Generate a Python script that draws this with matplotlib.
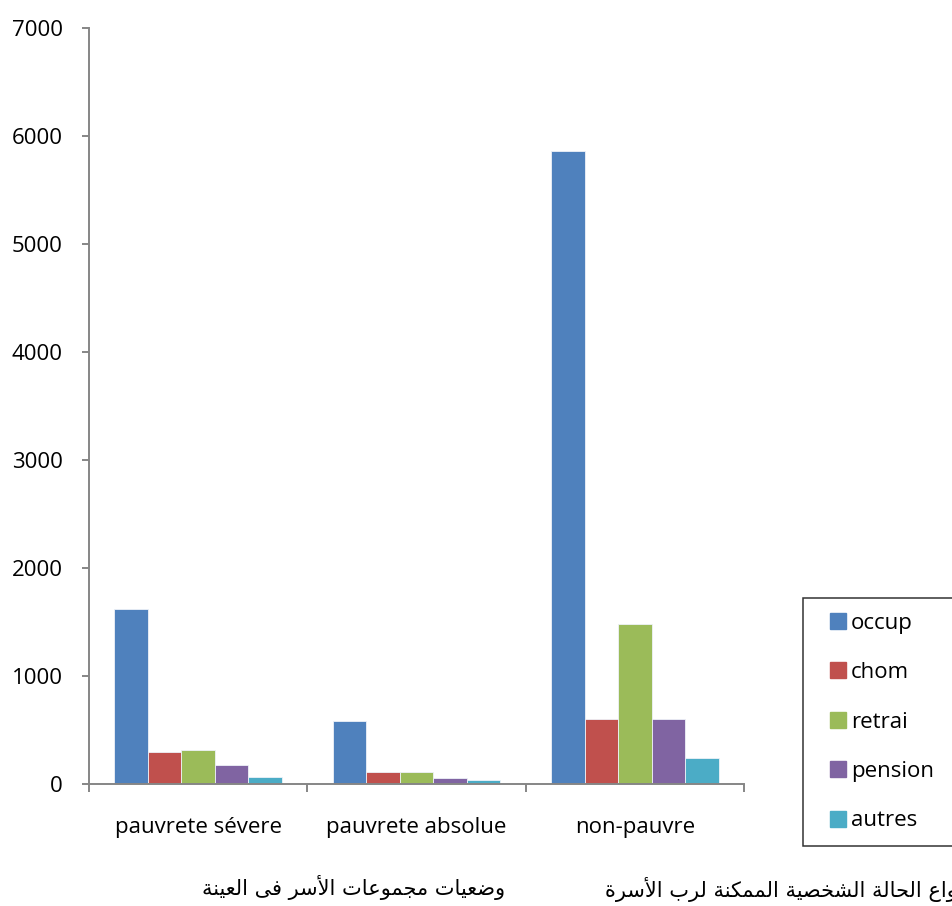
import matplotlib
matplotlib.use("Agg")
import matplotlib.pyplot as plt
from matplotlib.lines import Line2D
import numpy as np

# ---- data -------------------------------------------------------------
categories = ["pauvrete sévere", "pauvrete absolue", "non-pauvre"]
series_names = ["occup", "chom", "retrai", "pension", "autres"]
occup = [1620, 583, 5860]
chom = [293, 111, 599]
retrai = [315, 111, 1480]
pension = [173, 58, 605]
autres = [62, 37, 238]
series_values = [occup, chom, retrai, pension, autres]
colors = ["#4F81BD", "#C0504D", "#9BBB59", "#8064A2", "#4BACC6"]
yticks = [0, 1000, 2000, 3000, 4000, 5000, 6000, 7000]

title_groups = "وضعيات مجموعات الأسر فى العينة"
title_status = "أنواع الحالة الشخصية الممكنة لرب الأسرة"

# ---- minimal Arabic shaping (contextual forms + RTL order) -------------
_FORMS = {
    "ا": (0xFE8D, "R"), "أ": (0xFE83, "R"), "إ": (0xFE87, "R"), "آ": (0xFE81, "R"),
    "ب": (0xFE8F, "D"), "ة": (0xFE93, "R"), "ت": (0xFE95, "D"), "ج": (0xFE9D, "D"),
    "ح": (0xFEA1, "D"), "خ": (0xFEA5, "D"), "ر": (0xFEAD, "R"), "س": (0xFEB1, "D"),
    "ش": (0xFEB5, "D"), "ص": (0xFEB9, "D"), "ض": (0xFEBD, "D"), "ع": (0xFEC9, "D"),
    "ف": (0xFED1, "D"), "ك": (0xFED9, "D"), "ل": (0xFEDD, "D"), "م": (0xFEE1, "D"),
    "ن": (0xFEE5, "D"), "و": (0xFEED, "R"), "ى": (0xFEEF, "R"), "ي": (0xFEF1, "D"),
    "ه": (0xFEE9, "D"),
}
_LAM_ALEF = {"ا": 0xFEFB, "أ": 0xFEF7, "إ": 0xFEF9, "آ": 0xFEF5}


def shape_arabic(text):
    out = []
    i, n = 0, len(text)
    while i < n:
        c = text[i]
        if c not in _FORMS:
            out.append(c)
            i += 1
            continue
        jp = i > 0 and text[i - 1] in _FORMS and _FORMS[text[i - 1]][1] == "D"
        if c == "ل" and i + 1 < n and text[i + 1] in _LAM_ALEF:
            out.append(chr(_LAM_ALEF[text[i + 1]] + (1 if jp else 0)))
            i += 2
            continue
        base, kind = _FORMS[c]
        jn = kind == "D" and i + 1 < n and text[i + 1] in _FORMS
        if jp and jn:
            form = 3
        elif jp:
            form = 1
        elif jn:
            form = 2
        else:
            form = 0
        out.append(chr(base + form))
        i += 1
    return "".join(reversed(out))


# ---- figure -------------------------------------------------------------
W, H = 953, 906
plt.rcParams["font.family"] = ["Open Sans", "DejaVu Sans"]
fig = plt.figure(figsize=(W / 100, H / 100), dpi=100)
fig.patch.set_facecolor("white")

ax_left, ax_right, ax_top, ax_bottom = 89, 744, 28, 784
ax = fig.add_axes([ax_left / W, 1 - ax_bottom / H,
                   (ax_right - ax_left) / W, (ax_bottom - ax_top) / H])

x = np.arange(len(categories))
bar_w = 0.1535
n_series = len(series_names)
handles = []
for k, (name, vals, col) in enumerate(zip(series_names, series_values, colors)):
    offs = (k - (n_series - 1) / 2) * bar_w
    ax.bar(x + offs, vals, width=bar_w, color=col, edgecolor="#eef2f8",
           linewidth=0.6, zorder=2)
    handles.append(Line2D([], [], linestyle="none", marker="s", markersize=11,
                          markerfacecolor=col, markeredgecolor=col, label=name))

ax.set_xlim(-0.5, len(categories) - 0.5)
ax.set_ylim(0, 7000)
ax.set_yticks(yticks)
ax.set_yticklabels([str(v) for v in yticks])

axis_gray = "#868686"
for side in ["top", "right"]:
    ax.spines[side].set_visible(False)
for side in ["left", "bottom"]:
    ax.spines[side].set_color(axis_gray)
    ax.spines[side].set_linewidth(1.4)

ax.tick_params(axis="y", direction="out", length=5, width=1.4, color=axis_gray,
               pad=14, labelsize=16, labelcolor="black")
ax.set_xticks(x)
ax.set_xticklabels(categories)
ax.tick_params(axis="x", which="major", length=0, pad=24, labelsize=16,
               labelcolor="black")
ax.set_xticks(np.arange(-0.5, len(categories), 1.0), minor=True)
ax.tick_params(axis="x", which="minor", direction="out", length=6, width=1.4,
               color=axis_gray)

# legend box on the right, running past the figure edge
leg = fig.legend(handles=handles, loc="upper left",
                 bbox_to_anchor=(803 / W, 0, 0.3, 1 - 598 / H), mode="expand",
                 borderaxespad=0, frameon=True, fancybox=False, fontsize=16,
                 handlelength=1.85, handletextpad=-0.36, borderpad=0.66,
                 labelspacing=1.28)
leg.get_frame().set_edgecolor("black")
leg.get_frame().set_linewidth(1.1)

# Arabic captions under the chart
fig.text(505 / W, 1 - 888 / H, shape_arabic(title_groups), ha="right",
         va="center", fontsize=15, family=["DejaVu Sans"])
fig.text(605 / W, 1 - 888 / H, shape_arabic(title_status), ha="left",
         va="center", fontsize=15, family=["DejaVu Sans"])

fig.savefig("out.png", dpi=100, facecolor="white")
